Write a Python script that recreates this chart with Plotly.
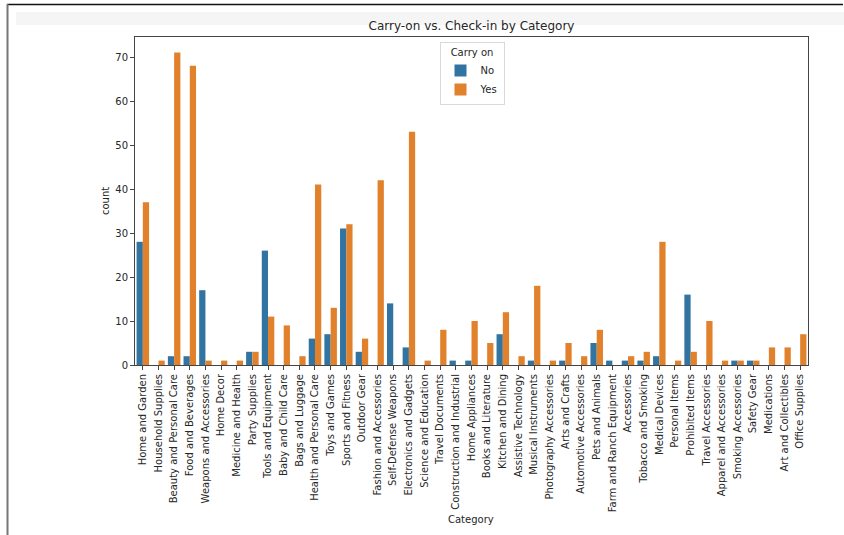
import plotly.graph_objects as go

categories = [
    "Home and Garden", "Household Supplies", "Beauty and Personal Care", "Food and Beverages",
    "Weapons and Accessories", "Home Decor", "Medicine and Health", "Party Supplies",
    "Tools and Equipment", "Baby and Child Care", "Bags and Luggage", "Health and Personal Care",
    "Toys and Games", "Sports and Fitness", "Outdoor Gear", "Fashion and Accessories",
    "Self-Defense Weapons", "Electronics and Gadgets", "Science and Education", "Travel Documents",
    "Construction and Industrial", "Home Appliances", "Books and Literature", "Kitchen and Dining",
    "Assistive Technology", "Musical Instruments", "Photography Accessories", "Arts and Crafts",
    "Automotive Accessories", "Pets and Animals", "Farm and Ranch Equipment", "Accessories",
    "Tobacco and Smoking", "Medical Devices", "Personal Items", "Prohibited Items",
    "Travel Accessories", "Apparel and Accessories", "Smoking Accessories", "Safety Gear",
    "Medications", "Art and Collectibles", "Office Supplies",
]
count_no = [28, 0, 2, 2, 17, 0, 0, 3, 26, 0, 0, 6, 7, 31, 3, 0, 14, 4, 0, 0, 1, 1, 0, 7,
            0, 1, 0, 1, 0, 5, 1, 1, 1, 2, 0, 16, 0, 0, 1, 1, 0, 0, 0]
count_yes = [37, 1, 71, 68, 1, 1, 1, 3, 11, 9, 2, 41, 13, 32, 6, 42, 0, 53, 1, 8, 0, 10, 5, 12,
             2, 18, 1, 5, 2, 8, 0, 2, 3, 28, 1, 3, 10, 1, 1, 1, 4, 4, 7]
y_ticks = [0, 10, 20, 30, 40, 50, 60, 70]

W, H = 844, 535
L, R, T, B = 135, 36, 37, 170
pw = W - L - R
ph = H - T - B

def px_x(x):
    return (x - L) / pw

def px_y(y):
    return (H - B - y) / ph

fig = go.Figure()
fig.add_trace(go.Bar(x=categories, y=count_no, name="No", marker_color="#3274a1",
                     marker_line_width=0))
fig.add_trace(go.Bar(x=categories, y=count_yes, name="Yes", marker_color="#e1812c",
                     marker_line_width=0))

font = "DejaVu Sans, Liberation Sans, sans-serif"
fig.update_layout(
    width=W, height=H,
    margin=dict(l=L, r=R, t=T, b=B, pad=0),
    paper_bgcolor="white", plot_bgcolor="white",
    barmode="group", bargap=0.2, bargroupgap=0,
    font=dict(family=font, size=10, color="#262626"),
    title=dict(text="Carry-on vs. Check-in by Category", x=0.5, xref="paper", xanchor="center",
               y=1 - 26 / H, yanchor="middle", yref="container",
               font=dict(size=12, color="#262626")),
    showlegend=True,
    legend=dict(x=px_x(472), y=px_y(42), xanchor="center", yanchor="top",
                bgcolor="rgba(255,255,255,0.8)", bordercolor="#d9d9d9", borderwidth=1,
                title=dict(text="Carry on", side="top center", font=dict(size=10)),
                font=dict(size=10), tracegroupgap=0, itemwidth=30),
)
fig.update_xaxes(range=[-0.5, len(categories) - 0.5], tickangle=-90, showline=True,
                 mirror=True, linecolor="#444", linewidth=1, ticks="outside", ticklen=4,
                 tickcolor="#444", showgrid=False, tickfont=dict(size=10), automargin=False)
fig.update_yaxes(range=[0, 74.55], tickvals=y_ticks, showline=True, mirror=True,
                 linecolor="#444", linewidth=1, ticks="outside", ticklen=4, tickcolor="#444",
                 showgrid=False, zeroline=False, tickfont=dict(size=10), automargin=False)

fig.add_annotation(text="count", x=px_x(105), y=0.5, xref="paper", yref="paper",
                   xanchor="center", yanchor="middle",
                   textangle=-90, showarrow=False, font=dict(size=10, color="#262626"))
fig.add_annotation(text="Category", x=px_x(471), y=px_y(519), xref="paper", yref="paper",
                   xanchor="center", yanchor="middle",
                   showarrow=False, font=dict(size=10, color="#262626"))

# surrounding notebook frame
fig.add_shape(type="rect", xref="paper", yref="paper", x0=px_x(16), x1=px_x(844),
              y0=px_y(25), y1=px_y(12), fillcolor="#f5f5f5", line_width=0, layer="below")
fig.add_shape(type="line", xref="paper", yref="paper", x0=px_x(7), x1=px_x(843),
              y0=px_y(4.5), y1=px_y(4.5), line=dict(color="#111", width=1.5), layer="above")
fig.add_shape(type="line", xref="paper", yref="paper", x0=px_x(7.5), x1=px_x(7.5),
              y0=px_y(4), y1=px_y(535), line=dict(color="#777", width=2))

fig.write_html("out.html", config={"displayModeBar": False},
               post_script="document.body.style.margin='0px';")
